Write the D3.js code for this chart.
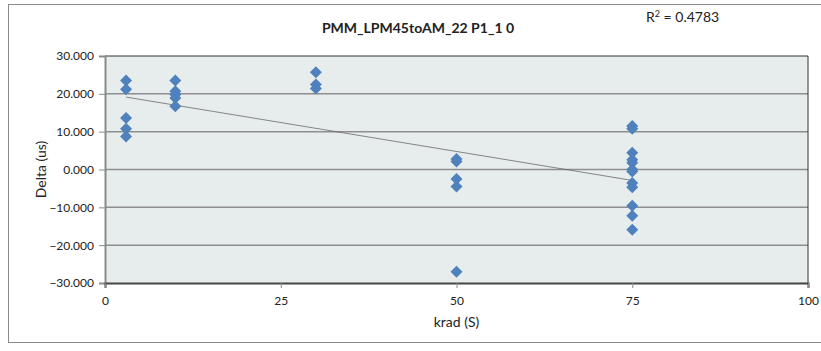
<!DOCTYPE html>
<html>
<head>
<meta charset="utf-8">
<script src="https://cdn.jsdelivr.net/npm/d3@7/dist/d3.min.js"></script>
<style>
  html, body { margin: 0; padding: 0; background: #fff; }
  svg { display: block; }
  text { font-family: Lato, "Open Sans", sans-serif; fill: #222; }
</style>
</head>
<body>
<svg id="chart" width="821" height="351"></svg>
<script>
// ---- data ----
const title = "PMM_LPM45toAM_22 P1_1 0";
const xLabel = "krad (S)";
const yLabel = "Delta (us)";
const r2Label = "0.4783";
const xTicks = [0, 25, 50, 75, 100];
const yTicks = [-30, -20, -10, 0, 10, 20, 30];
const xDose = [3, 3, 3, 3, 3,
               10, 10, 10, 10, 10,
               30, 30, 30,
               50, 50, 50, 50, 50,
               75, 75, 75, 75, 75, 75, 75, 75, 75, 75, 75, 75];
const yDelta = [23.5, 21.2, 13.6, 10.8, 8.7,
                23.5, 20.7, 19.8, 18.9, 16.7,
                25.7, 22.5, 21.4,
                2.8, 2.1, -2.5, -4.5, -27.0,
                11.5, 10.8, 4.4, 2.6, 1.8, 0.0, -0.5, -3.6, -4.7, -9.6, -12.2, -15.9];

// ---- layout ----
const svg = d3.select("#chart");
const W = 821, H = 351;
const plot = { left: 105, right: 808, top: 56, bottom: 283 };

svg.append("rect").attr("x", 0).attr("y", 0).attr("width", W).attr("height", H).attr("fill", "#fff");
// outer chart border
svg.append("rect").attr("x", 8.5).attr("y", 4.5).attr("width", 830).attr("height", 338)
  .attr("fill", "none").attr("stroke", "#8a8a8a").attr("stroke-width", 1);

const x = d3.scaleLinear().domain([0, 100]).range([plot.left, plot.right]);
const y = d3.scaleLinear().domain([-30, 30]).range([plot.bottom, plot.top]);

// plot background
svg.append("rect").attr("x", plot.left).attr("y", plot.top)
  .attr("width", plot.right - plot.left).attr("height", plot.bottom - plot.top)
  .attr("fill", "#e7eded");

// gridlines
svg.append("g").selectAll("line").data(yTicks.filter(d => d > -30 && d < 30)).join("line")
  .attr("x1", plot.left).attr("x2", plot.right)
  .attr("y1", d => y(d)).attr("y2", d => y(d))
  .attr("stroke", "#8e8e8e").attr("stroke-width", 1.5);

// plot border top/right
svg.append("path")
  .attr("d", `M${plot.left},${plot.top}H${plot.right}V${plot.bottom}`)
  .attr("fill", "none").attr("stroke", "#333").attr("stroke-width", 1);

// y axis
const yAxis = d3.axisLeft(y).tickValues(yTicks).tickSize(6).tickPadding(5)
  .tickFormat(d3.format(".3f"));
const gy = svg.append("g").attr("transform", `translate(${plot.left},0)`).call(yAxis);
gy.select(".domain").attr("stroke", "#8a8a8a").attr("stroke-width", 2);
gy.selectAll(".tick line").attr("stroke", "#8a8a8a").attr("stroke-width", 1);
gy.selectAll(".tick text").style("font-size", "12px").attr("fill", "#222")
  .style("font-family", "Lato, sans-serif");

// x axis
const xAxis = d3.axisBottom(x).tickValues(xTicks).tickSize(5).tickPadding(8)
  .tickFormat(d3.format("d"));
const gx = svg.append("g").attr("transform", `translate(0,${plot.bottom})`).call(xAxis);
gx.select(".domain").attr("stroke", "#444").attr("stroke-width", 2);
gx.selectAll(".tick line").attr("stroke", "#8a8a8a").attr("stroke-width", 1);
gx.selectAll(".tick text").style("font-size", "12px").attr("fill", "#222")
  .style("font-family", "Lato, sans-serif");

// trendline (least squares from data)
const n = xDose.length;
const mx = d3.mean(xDose), my = d3.mean(yDelta);
let sxy = 0, sxx = 0;
for (let i = 0; i < n; i++) { sxy += (xDose[i] - mx) * (yDelta[i] - my); sxx += (xDose[i] - mx) ** 2; }
const slope = sxy / sxx, icpt = my - slope * mx;
const x0 = d3.min(xDose), x1 = d3.max(xDose);
svg.append("line")
  .attr("x1", x(x0)).attr("y1", y(icpt + slope * x0))
  .attr("x2", x(x1)).attr("y2", y(icpt + slope * x1))
  .attr("stroke", "#6a6a6a").attr("stroke-width", 0.8);

// points (diamond markers)
const r = 6;
const diamondPath = `M0,${-r}L${r},0L0,${r}L${-r},0Z`;
svg.append("g").selectAll("path").data(d3.range(n)).join("path")
  .attr("transform", i => `translate(${x(xDose[i])},${y(yDelta[i])})`)
  .attr("d", diamondPath)
  .attr("fill", "#4f81bd");

// titles
svg.append("text").attr("x", 418).attr("y", 33).attr("text-anchor", "middle")
  .style("font-size", "14px").style("font-weight", "bold").text(title);

const r2 = svg.append("text").attr("x", 646).attr("y", 22).style("font-size", "14px");
r2.append("tspan").text("R");
r2.append("tspan").attr("dy", -5).style("font-size", "9px").text("2");
r2.append("tspan").attr("dy", 5).text(" = " + r2Label);

svg.append("text").attr("x", x(50)).attr("y", 327).attr("text-anchor", "middle")
  .style("font-size", "14px").text(xLabel);

svg.append("text").attr("transform", `translate(46,${(plot.top + plot.bottom) / 2}) rotate(-90)`)
  .attr("text-anchor", "middle").style("font-size", "14px").text(yLabel);
</script>
</body>
</html>
